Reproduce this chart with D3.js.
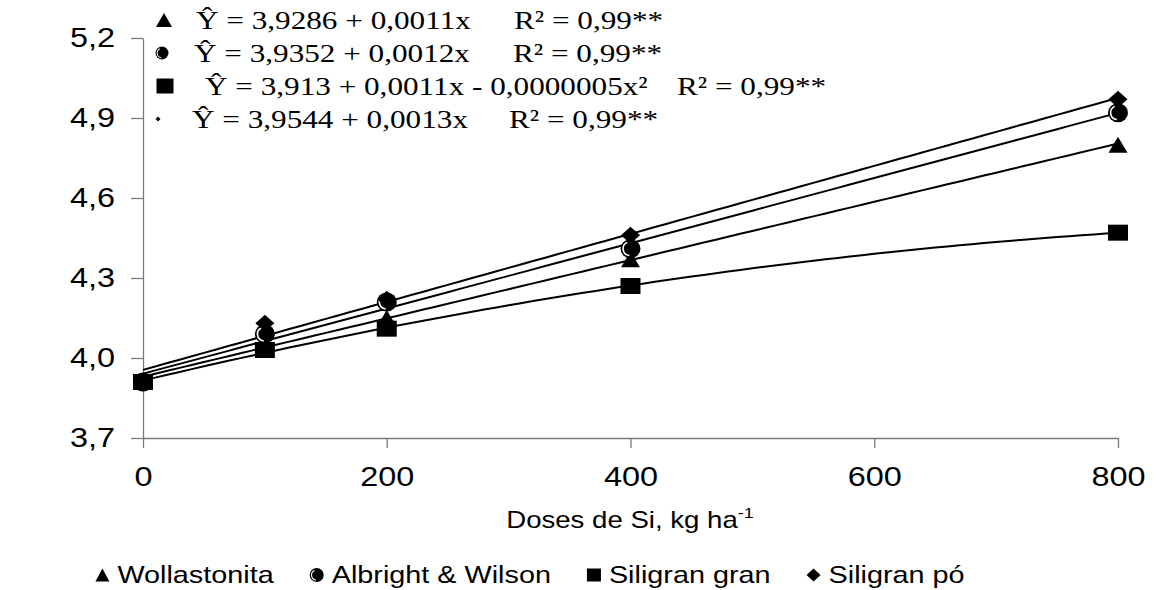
<!DOCTYPE html>
<html>
<head>
<meta charset="utf-8">
<script src="https://cdn.jsdelivr.net/npm/d3@7"></script>
<style>
    body { margin: 0; background: #fff; }
    svg { display: block; }
    .tick text { font-family: Arial, "Liberation Sans", sans-serif; }
</style>
</head>
<body>
<div id="chart"></div>
<script>
// Doses of Si (kg/ha) and pH
const doses = [0, 100, 200, 400, 800];
const wollastonita = [3.91, 4.06, 4.15, 4.37, 4.80];
const albright = [3.91, 4.09, 4.21, 4.41, 4.92];
const siligranGran = [3.91, 4.03, 4.11, 4.27, 4.47];
const siligranPo = [3.91, 4.13, 4.22, 4.46, 4.97];

// degree of the trend line fitted to each series
const fitDegrees = [1, 1, 2, 1];

const seriesNames = ['Wollastonita', 'Albright & Wilson', 'Siligran gran', 'Siligran pó'];
const equations = [
    'Ŷ = 3,9286 + 0,0011x',
    'Ŷ = 3,9352 + 0,0012x',
    'Ŷ = 3,913 + 0,0011x - 0,0000005x²',
    'Ŷ = 3,9544 + 0,0013x'
];
const r2Labels = ['R² = 0,99**', 'R² = 0,99**', 'R² = 0,99**', 'R² = 0,99**'];

const xTicks = [0, 200, 400, 600, 800];
const yTicks = [3.7, 4.0, 4.3, 4.6, 4.9, 5.2];

const CHART_WIDTH = 1158;
const CHART_HEIGHT = 590;
const STRETCH = 1.2; // the original picture is widened horizontally

const series = [
    { name: seriesNames[0], values: wollastonita, shape: 'triangle' },
    { name: seriesNames[1], values: albright, shape: 'circle' },
    { name: seriesNames[2], values: siligranGran, shape: 'square' },
    { name: seriesNames[3], values: siligranPo, shape: 'diamond' }
];

// least squares polynomial fit
function polyfit(xs, ys, deg) {
    const n = deg + 1;
    const A = d3.range(n).map(i => d3.range(n).map(j => d3.sum(xs, x => Math.pow(x, i + j))));
    const b = d3.range(n).map(i => d3.sum(xs.map((x, k) => ys[k] * Math.pow(x, i))));
    for (let i = 0; i < n; i++) {
        for (let r = i + 1; r < n; r++) {
            const f = A[r][i] / A[i][i];
            for (let c = i; c < n; c++) A[r][c] -= f * A[i][c];
            b[r] -= f * b[i];
        }
    }
    const coef = new Array(n).fill(0);
    for (let i = n - 1; i >= 0; i--) {
        let s = b[i];
        for (let c = i + 1; c < n; c++) s -= A[i][c] * coef[c];
        coef[i] = s / A[i][i];
    }
    return coef;
}

series.forEach((s, i) => {
    s.fit = polyfit(doses, s.values, fitDegrees[i]);
});

// widen a text element around its own x
function stretch(sel, k) {
    sel.each(function() {
        const t = d3.select(this);
        const x = +t.attr('x') || 0;
        t.attr('transform', `translate(${x * (1 - k)},0) scale(${k},1)`);
    });
}

const svg = d3.select('#chart')
    .append('svg')
    .attr('width', CHART_WIDTH)
    .attr('height', CHART_HEIGHT);

// Scales
const xScale = d3.scaleLinear()
    .domain([0, 800])
    .range([143, 1118]);

const yScale = d3.scaleLinear()
    .domain([3.7, 5.2])
    .range([438, 38]);

const comma = v => d3.format('.1f')(v).replace('.', ',');

// Axes
svg.append('g')
    .attr('transform', `translate(0,${yScale(3.7)})`)
    .call(d3.axisBottom(xScale)
        .tickValues(xTicks)
        .tickSize(10)
        .tickSizeOuter(0)
        .tickPadding(19));

svg.append('g')
    .attr('transform', `translate(${xScale(0)},0)`)
    .call(d3.axisLeft(yScale)
        .tickValues(yTicks)
        .tickFormat(comma)
        .tickSize(12)
        .tickSizeOuter(0)
        .tickPadding(16));

svg.selectAll('.domain, .tick line')
    .attr('stroke', '#7a7a7a')
    .attr('stroke-width', 1.3);

svg.selectAll('.tick text')
    .attr('font-size', 27)
    .attr('fill', '#000')
    .call(stretch, STRETCH);

// Axis titles
svg.append('text')
    .attr('x', 630)
    .attr('y', 528)
    .attr('text-anchor', 'middle')
    .attr('font-family', 'Arial, "Liberation Sans", sans-serif')
    .attr('font-size', 23)
    .text('Doses de Si, kg ha')
    .call(stretch, STRETCH)
    .append('tspan')
    .attr('dy', -10)
    .attr('font-size', 15)
    .text('-1');

svg.append('clipPath')
    .attr('id', 'ylabel-clip')
    .append('rect')
    .attr('x', 0).attr('y', 221).attr('width', 60).attr('height', 60);

svg.append('text')
    .attr('clip-path', 'url(#ylabel-clip)')
    .attr('transform', 'translate(28,232) rotate(-90)')
    .attr('text-anchor', 'middle')
    .attr('font-family', 'Arial, "Liberation Sans", sans-serif')
    .attr('font-size', 27)
    .text('pH');

// Trend lines
const fitLine = d3.line()
    .x(d => xScale(d[0]))
    .y(d => yScale(d[1]));

svg.selectAll('path.fit')
    .data(series)
    .enter()
    .append('path')
    .attr('class', 'fit')
    .attr('d', s => fitLine(d3.range(0, 801, 10).map(x => [x, d3.sum(s.fit, (c, p) => c * Math.pow(x, p))])))
    .attr('fill', 'none')
    .attr('stroke', '#000')
    .attr('stroke-width', 2);

// Markers
function drawMarker(g, shape, w, h) {
    const a = w / 2, b = h / 2;
    if (shape === 'triangle') {
        g.append('path').attr('d', `M0,${-b}L${a},${b}L${-a},${b}Z`).attr('fill', '#000');
    } else if (shape === 'square') {
        g.append('rect').attr('x', -a).attr('y', -b).attr('width', w).attr('height', h).attr('fill', '#000');
    } else if (shape === 'diamond') {
        g.append('path').attr('d', `M0,${-b}L${a},0L0,${b}L${-a},0Z`).attr('fill', '#000');
    } else if (shape === 'circle') {
        g.append('ellipse').attr('rx', a).attr('ry', b).attr('fill', '#000');
        g.append('path')
            .attr('transform', `scale(1,${h / w})`)
            .attr('d', d3.arc()({ innerRadius: a * 0.66, outerRadius: a * 0.82, startAngle: -Math.PI * 0.95, endAngle: -Math.PI * 0.15 }))
            .attr('fill', '#fff');
    }
}

const markerSizes = { triangle: [19, 16], circle: [20, 19], square: [20, 16], diamond: [19, 17] };

series.forEach(s => {
    s.values.forEach((v, i) => {
        const g = svg.append('g')
            .attr('transform', `translate(${xScale(doses[i])},${yScale(v)})`);
        drawMarker(g, s.shape, markerSizes[s.shape][0], markerSizes[s.shape][1]);
    });
});

// Equation box at the top
const eqShapes = ['triangle', 'circle', 'square', 'diamond'];
const eqSizes = [[16, 14], [13, 13], [17, 15], [5, 5]];
const eqX = [196, 194, 205, 192];
const r2X = [514, 513, 677, 509];
const markerX = [164, 162, 165, 158];
equations.forEach((eq, i) => {
    const cy = 20 + i * 33;
    const g = svg.append('g').attr('transform', `translate(${markerX[i]},${cy})`);
    drawMarker(g, eqShapes[i], eqSizes[i][0], eqSizes[i][1]);
    svg.append('text')
        .attr('x', eqX[i])
        .attr('y', cy + 9)
        .attr('font-family', '"Times New Roman", "Liberation Serif", serif')
        .attr('font-size', 26)
        .text(eq)
        .call(stretch, STRETCH);
    svg.append('text')
        .attr('x', r2X[i])
        .attr('y', cy + 9)
        .attr('font-family', '"Times New Roman", "Liberation Serif", serif')
        .attr('font-size', 26)
        .text(r2Labels[i])
        .call(stretch, STRETCH);
});

// Bottom legend, laid out from the measured text widths
const legend = svg.append('g');
let cursor = 0;
series.forEach((s, i) => {
    const g = legend.append('g').attr('transform', `translate(${cursor + 7},575)`);
    drawMarker(g, s.shape, 14, s.shape === 'circle' ? 14 : 13);
    const t = legend.append('text')
        .attr('x', cursor + 22)
        .attr('y', 583)
        .attr('font-family', 'Arial, "Liberation Sans", sans-serif')
        .attr('font-size', 24)
        .text(s.name)
        .call(stretch, STRETCH);
    cursor += 22 + t.node().getComputedTextLength() * STRETCH + 36;
});
const legendWidth = cursor - 36;
legend.attr('transform', `translate(${530 - legendWidth / 2},0)`);
</script>
</body>
</html>
